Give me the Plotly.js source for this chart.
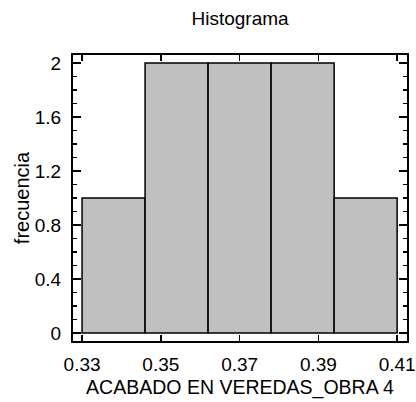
<!DOCTYPE html>
<html><head><meta charset="utf-8">
<script src="https://cdn.plot.ly/plotly-3.0.1.min.js"></script>
<style>body{margin:0;background:#fff}#c{width:416px;height:402px}</style>
</head><body><div id="c"></div>
<script>
var binEdges = [0.33, 0.346, 0.362, 0.378, 0.394, 0.41];
var counts = [1, 2, 2, 2, 1];
var xTicks = [0.33, 0.35, 0.37, 0.39, 0.41];
var yTicks = [0, 0.4, 0.8, 1.2, 1.6, 2];

var centers = [], widths = [];
for (var i = 0; i < counts.length; i++) {
  centers.push((binEdges[i] + binEdges[i+1]) / 2);
  widths.push(binEdges[i+1] - binEdges[i]);
}
var font = {family: 'Liberation Sans, Arial, sans-serif', color: '#000'};
Plotly.newPlot('c', [{
  type: 'bar', x: centers, y: counts, width: widths,
  marker: {color: '#c0c0c0', line: {color: '#000', width: 1.5}},
  hoverinfo: 'none'
}], {
  width: 416, height: 402,
  margin: {l: 73, r: 9, t: 55, b: 61},
  paper_bgcolor: '#fff', plot_bgcolor: '#fff',
  font: Object.assign({size: 18}, font),
  title: {text: 'Histograma', font: Object.assign({size: 19}, font), x: 0.577, xanchor: 'center', y: 0.955, yanchor: 'middle'},
  showlegend: false,
  xaxis: {
    range: [0.3277, 0.4125], tickvals: xTicks, ticktext: xTicks.map(function(v){return v.toFixed(2);}),
    ticks: 'inside', ticklen: 6, tickwidth: 1.5, tickcolor: '#000',
    showline: true, linecolor: '#000', linewidth: 2, mirror: 'ticks',
    showgrid: false, zeroline: false, ticklabelstandoff: 5,
    tickfont: Object.assign({size: 19}, font),
    title: {text: 'ACABADO EN VEREDAS_OBRA 4', font: Object.assign({size: 19.5}, font), standoff: 7}
  },
  yaxis: {
    range: [-0.06, 2.06], tickvals: yTicks, ticktext: ['0','0.4','0.8','1.2','1.6','2'],
    ticks: 'inside', ticklen: 8, tickwidth: 1.5, tickcolor: '#000',
    showline: true, linecolor: '#000', linewidth: 2, mirror: 'ticks',
    minor: {dtick: 0.1, tick0: 0, ticks: 'inside', ticklen: 4, tickwidth: 1.5, tickcolor: '#000', showgrid: false},
    showgrid: false, zeroline: false, ticklabelstandoff: 6,
    tickfont: Object.assign({size: 19}, font),
    title: {text: 'frecuencia', font: Object.assign({size: 20}, font), standoff: 0}
  }
}, {displayModeBar: false, staticPlot: true});
</script></body></html>
